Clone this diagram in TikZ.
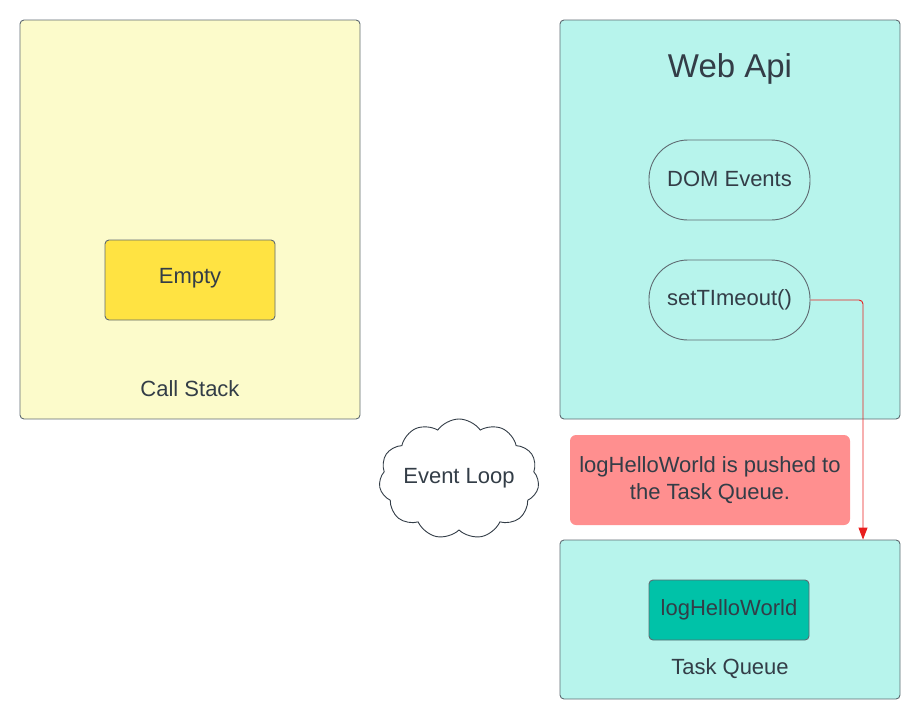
\documentclass[tikz,border=0pt]{standalone}
\usepackage{fontspec}
\setmainfont{Liberation Sans}
\usetikzlibrary{shapes.symbols,arrows.meta}
\definecolor{txt}{HTML}{333D47}
\definecolor{edge}{HTML}{5E6A71}
\definecolor{ylight}{HTML}{FCFBCB}
\definecolor{yfill}{HTML}{FFE342}
\definecolor{teallight}{HTML}{B7F4EC}
\definecolor{tealdark}{HTML}{00C2A8}
\definecolor{redbox}{HTML}{FF8F8F}
\definecolor{redline}{HTML}{E81E1E}
\tikzset{
  panel/.style={draw=edge, line width=0.9pt, rounded corners=4pt, inner sep=0pt},
  lbl/.style={text=txt, font=\fontsize{22}{26}\selectfont, inner sep=0pt},
  pill/.style={draw=edge, line width=0.9pt, fill=teallight, rounded corners=39pt, minimum width=161pt, minimum height=80pt, text=txt, font=\fontsize{22}{26}\selectfont},
  redarrow/.style={draw=redline, line width=0.9pt, rounded corners=4pt, -{Triangle[length=12pt,width=9pt]}}
}
\begin{document}
\begin{tikzpicture}[x=1pt,y=-1pt]
\useasboundingbox (0,0) rectangle (920,720);
% Call stack
\node[panel, fill=ylight, minimum width=340pt, minimum height=399pt] (cs) at (190,219.5) {};
\node[draw=edge, line width=0.9pt, fill=yfill, rounded corners=4pt, minimum width=170pt, minimum height=80pt, lbl, inner sep=0pt] (empty) at (190,280) {};
\node[lbl] (emptylbl) at (190,278) {Empty};
\node[lbl] (cslbl) at (190,389) {Call Stack};
% Web Api
\node[panel, fill=teallight, minimum width=340pt, minimum height=399pt] (wa) at (730,219.5) {};
\node[lbl, font=\fontsize{33}{38}\selectfont] (walbl) at (730,69) {Web Api};
\node[pill] (dom) at (729.5,180) {};
\node[lbl] (domlbl) at (729.5,178.5) {DOM Events};
\node[pill] (st) at (729.5,300) {setTImeout()};
% Red note
\node[fill=redbox, rounded corners=6pt, minimum width=280pt, minimum height=90pt, text=txt, align=center, font=\fontsize{22}{27}\selectfont] (note) at (710,480) {logHelloWorld is pushed to\\the Task Queue.};
% Task queue
\node[panel, fill=teallight, minimum width=340pt, minimum height=159pt] (tq) at (730,619.5) {};
\node[draw=edge, line width=0.9pt, fill=tealdark, rounded corners=4pt, minimum width=160pt, minimum height=60pt, lbl] (lhw) at (729,610) {logHelloWorld};
\node[lbl] (tqlbl) at (730,669) {Task Queue};
% Event loop cloud
\node[cloud, cloud puffs=11, cloud puff arc=110, aspect=1.35, draw=txt, line width=0.9pt, fill=white, minimum width=160pt, minimum height=120pt, inner sep=0pt] (loop) at (459,479) {};
\node[lbl] (looplbl) at (459,478) {Event Loop};
% Arrow
\coordinate (ax) at (863,0);
\draw[redarrow] (st.east) -| (ax |- tq.north);
\end{tikzpicture}
\end{document}
